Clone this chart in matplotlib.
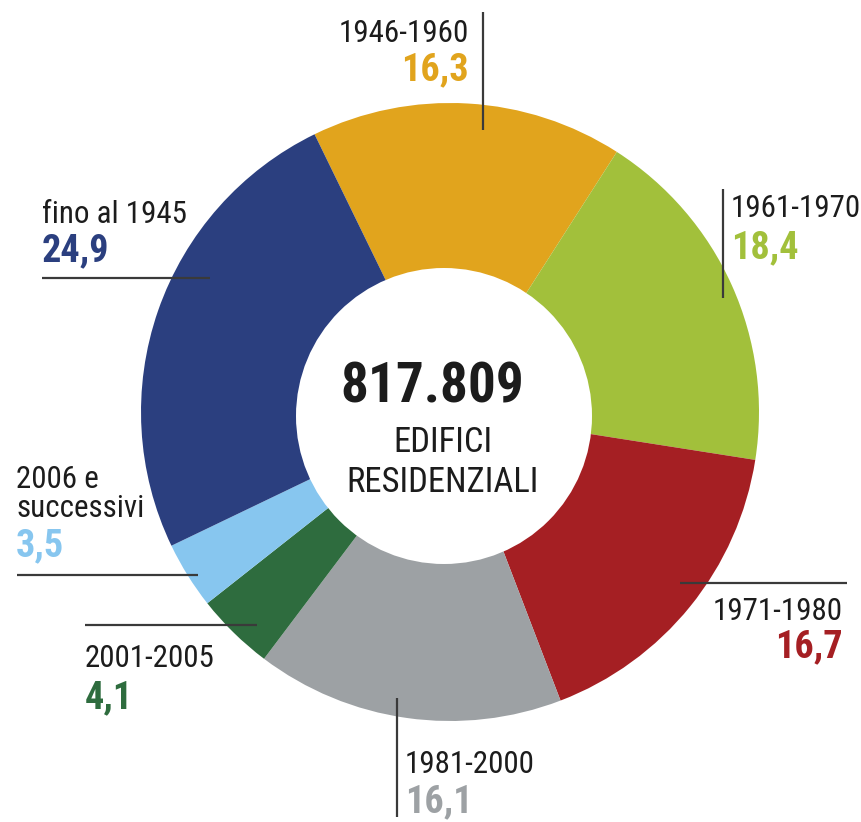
import matplotlib.pyplot as plt
from matplotlib.patches import Circle
from matplotlib.font_manager import FontProperties, fontManager
from matplotlib.textpath import TextPath

# ========== Data ==========
periods = ["1946-1960", "1961-1970", "1971-1980", "1981-2000",
           "2001-2005", "2006 e\nsuccessivi", "fino al 1945"]
shares = [16.3, 18.4, 16.7, 16.1, 4.1, 3.5, 24.9]
share_labels = ["16,3", "18,4", "16,7", "16,1", "4,1", "3,5", "24,9"]
colors = ["#E1A41D", "#A2C03B", "#A51F23", "#9DA1A4",
          "#2E6C3E", "#87C6EF", "#2B3F7F"]
total_text = "817.809"
center_lines = ["EDIFICI", "RESIDENZIALI"]

W, H = 861, 822
TXT_C = "#1c1c1c"
LINE_C = "#3a3a3a"


# ========== Font: prefer something narrow ==========
def pick_font():
    names = {f.name for f in fontManager.ttflist}
    for cand in ["Liberation Sans Narrow", "Roboto Condensed",
                 "Open Sans Condensed", "Noto Sans Condensed",
                 "DejaVu Sans Condensed"]:
        if cand in names:
            return cand, "normal"
    for f in fontManager.ttflist:
        if f.name == "DejaVu Sans" and f.stretch == "condensed":
            return "DejaVu Sans", "condensed"
    for cand in ["Roboto", "Liberation Sans"]:
        if cand in names:
            return cand, "normal"
    return "DejaVu Sans", "normal"


FAM, STRETCH = pick_font()


def fprop(weight="normal"):
    return FontProperties(family=FAM, stretch=STRETCH, weight=weight)


def ink(sample, weight):
    return TextPath((0, 0), sample, size=1, prop=fprop(weight)).get_extents()


def fit_size(sample, w_px, h_sample, h_px, weight="normal"):
    # font size (pt) that gives roughly the ink size seen in the reference
    s_w = w_px * 72 / (100 * ink(sample, weight).width)
    s_h = h_px * 72 / (100 * ink(h_sample, weight).height)
    return min(s_h, s_w)


LABEL_FS = fit_size("1946-1960", 126, "1946", 27)
VALUE_FS = fit_size("16,3", 74, "163", 28, "bold")
TOTAL_FS = fit_size(total_text, 178, "817", 46, "bold")
CENTER_FS = fit_size("RESIDENZIALI", 187, "RESIDENZIALI", 27)

fig = plt.figure(figsize=(W / 100, H / 100), dpi=100)
ax = fig.add_axes([0, 0, 1, 1])

cx, cy, r = 450, H - 412, 309
ax.pie(shares, colors=colors, startangle=116, counterclock=False,
       radius=r, center=(cx, cy), frame=True,
       wedgeprops=dict(edgecolor="none", linewidth=0))
ax.add_patch(Circle((444, H - 416), 148, facecolor="white",
                    edgecolor="none", zorder=3))
ax.set_xlim(0, W)
ax.set_ylim(0, H)
ax.set_aspect("equal")
ax.axis("off")

# center text
ax.text(432, H - 403, total_text, ha="center", va="baseline",
        fontproperties=fprop("bold"), fontsize=TOTAL_FS, color=TXT_C,
        zorder=4)
for line, base in zip(center_lines, [452, 492]):
    ax.text(443, H - base, line, ha="center", va="baseline",
            fontproperties=fprop(), fontsize=CENTER_FS, color=TXT_C,
            zorder=4)

# label x, baseline of last name line, value baseline, ha, leader line
layout = {
    "1946-1960": (469, 42, 80, "right", ([483, 483], [12, 130])),
    "1961-1970": (731, 217, 258, "left", ([723, 723], [189, 298])),
    "1971-1980": (843, 620, 657, "right", ([680, 847], [583, 583])),
    "1981-2000": (405, 773, 812, "left", ([397, 397], [698, 817])),
    "2001-2005": (85, 667, 708, "left", ([85, 257], [625, 625])),
    "2006 e\nsuccessivi": (16, 517, 556, "left", ([17, 198], [575, 575])),
    "fino al 1945": (42, 223, 261, "left", ([42, 210], [278, 278])),
}
LINE_STEP = 29

for name, val, col in zip(periods, share_labels, colors):
    lx, base, vbase, ha, (xs, ys) = layout[name]
    ax.plot(xs, [H - y for y in ys], color=LINE_C, lw=1.6,
            solid_capstyle="butt", zorder=5)
    rows = name.split("\n")
    for k, row in enumerate(rows):
        y = base - (len(rows) - 1 - k) * LINE_STEP
        ax.text(lx, H - y, row, ha=ha, va="baseline", fontproperties=fprop(),
                fontsize=LABEL_FS, color=TXT_C)
    ax.text(lx, H - vbase, val, ha=ha, va="baseline",
            fontproperties=fprop("bold"), fontsize=VALUE_FS, color=col)

plt.savefig("out.png", dpi=100)
